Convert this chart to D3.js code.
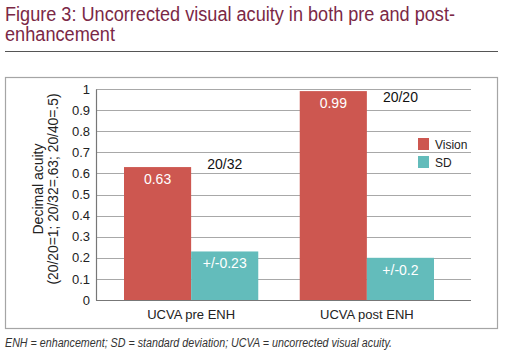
<!DOCTYPE html>
<html><head><meta charset="utf-8">
<script src="https://cdn.jsdelivr.net/npm/d3@7/dist/d3.min.js"></script>
<style>body{margin:0;background:#fff}svg{display:block}</style>
</head><body>
<script>
const categories = ["UCVA pre ENH", "UCVA post ENH"];
const series = ["Vision", "SD"];
const vision = [0.63, 0.99];
const sd = [0.23, 0.2];
const visionLabels = ["0.63", "0.99"];
const sdLabels = ["+/-0.23", "+/-0.2"];
const snellen = ["20/32", "20/20"];
const yTicks = [0, 0.1, 0.2, 0.3, 0.4, 0.5, 0.6, 0.7, 0.8, 0.9, 1];
const colors = ["#cd5750", "#63bcbb"];

const W = 518, H = 360;
const svg = d3.select("body").append("svg").attr("width", W).attr("height", H);
const sans = "'Liberation Sans', Arial, sans-serif";

// Title
svg.append("text").attr("x", 5).attr("y", 21).attr("font-family", sans).attr("font-size", 20).attr("fill", "#7b2846")
  .attr("textLength", 450).attr("lengthAdjust", "spacingAndGlyphs")
  .text("Figure 3: Uncorrected visual acuity in both pre and post-");
svg.append("text").attr("x", 5).attr("y", 41).attr("font-family", sans).attr("font-size", 20).attr("fill", "#7b2846")
  .attr("textLength", 110).attr("lengthAdjust", "spacingAndGlyphs")
  .text("enhancement");
svg.append("line").attr("x1", 5).attr("x2", 498).attr("y1", 51.5).attr("y2", 51.5).attr("stroke", "#555").attr("stroke-width", 1);

// Box
svg.append("rect").attr("x", 5.5).attr("y", 77.5).attr("width", 492).attr("height", 251).attr("fill", "none").attr("stroke", "#a5a5a5").attr("stroke-width", 1.2);

const y = d3.scaleLinear().domain([0, 1]).range([300, 89]);
const x0 = d3.scaleBand().domain(categories).range([124, 434]).paddingInner(0.236).paddingOuter(0);
const x1 = d3.scaleBand().domain(series).range([0, x0.bandwidth()]);
const plotL = 96, plotR = 471;

// grid
svg.append("g").selectAll("line").data(yTicks.filter(d => d > 0)).join("line")
  .attr("x1", plotL).attr("x2", plotR)
  .attr("y1", d => Math.round(y(d)) + 0.5).attr("y2", d => Math.round(y(d)) + 0.5)
  .attr("stroke", "#a8a8a8").attr("stroke-width", 1.2);

// y axis
const yAxis = d3.axisLeft(y).tickValues(yTicks).tickFormat(d => d === 0 ? "0" : d === 1 ? "1" : d3.format(".1f")(d)).tickSize(0).tickPadding(6);
const gy = svg.append("g").attr("transform", `translate(${plotL},0)`).call(yAxis);
gy.select(".domain").attr("stroke", "#777").attr("stroke-width", 1.2);
gy.selectAll("text").attr("font-family", sans).attr("font-size", 13).attr("fill", "#222");

// bars
const groups = svg.append("g").selectAll("g").data(categories).join("g")
  .attr("transform", d => `translate(${x0(d)},0)`);
groups.each(function(c, i) {
  const g = d3.select(this);
  const vals = [vision[i], sd[i]];
  const labs = [visionLabels[i], sdLabels[i]];
  g.selectAll("rect").data(series).join("rect")
    .attr("x", s => x1(s)).attr("width", x1.bandwidth())
    .attr("y", (s, j) => y(vals[j])).attr("height", (s, j) => y(0) - y(vals[j]))
    .attr("fill", (s, j) => colors[j]);
  g.selectAll("text.in").data(series).join("text").attr("class", "in")
    .attr("x", s => x1(s) + x1.bandwidth() / 2).attr("y", (s, j) => y(vals[j]) + 17)
    .attr("text-anchor", "middle").attr("font-family", sans).attr("font-size", 14).attr("fill", "#fff")
    .text((s, j) => labs[j]);
  g.append("text")
    .attr("x", x1("SD") + x1.bandwidth() / 2)
    .attr("y", Math.max(y(vision[i]) + 2, y(1) + 13))
    .attr("text-anchor", "middle").attr("font-family", sans).attr("font-size", 14).attr("fill", "#111")
    .text(snellen[i]);
});

// baseline
svg.append("line").attr("x1", plotL).attr("x2", plotR).attr("y1", y(0) + 0.5).attr("y2", y(0) + 0.5).attr("stroke", "#777").attr("stroke-width", 1.2);

// x axis labels
const xAxis = d3.axisBottom(x0).tickSize(0).tickPadding(10);
const gx = svg.append("g").attr("transform", `translate(0,${y(0)})`).call(xAxis);
gx.select(".domain").remove();
gx.selectAll("text").attr("font-family", sans).attr("font-size", 13).attr("fill", "#222");

// y title
const yt = svg.append("text").attr("transform", "translate(0,189) rotate(-90)").attr("text-anchor", "middle")
  .attr("font-family", sans).attr("font-size", 14).attr("fill", "#222");
yt.append("tspan").attr("x", 0).attr("y", 43).text("Decimal acuity");
yt.append("tspan").attr("x", 0).attr("y", 58).attr("textLength", 191).attr("lengthAdjust", "spacingAndGlyphs").text("(20/20=1; 20/32=.63; 20/40=.5)");

// legend
const lg = svg.append("g").attr("transform", "translate(418,138)");
series.forEach((s, i) => {
  lg.append("rect").attr("x", 0).attr("y", i * 18).attr("width", 11).attr("height", 12).attr("fill", colors[i]);
  lg.append("text").attr("x", 17).attr("y", i * 18 + 10.5).attr("font-family", sans).attr("font-size", 12).attr("fill", "#222").text(s);
});

// footer
svg.append("text").attr("x", 5).attr("y", 347).attr("font-family", sans).attr("font-style", "italic")
  .attr("font-size", 12.5).attr("fill", "#333")
  .attr("textLength", 387).attr("lengthAdjust", "spacingAndGlyphs")
  .text("ENH = enhancement; SD = standard deviation; UCVA = uncorrected visual acuity.");
</script>
</body></html>
